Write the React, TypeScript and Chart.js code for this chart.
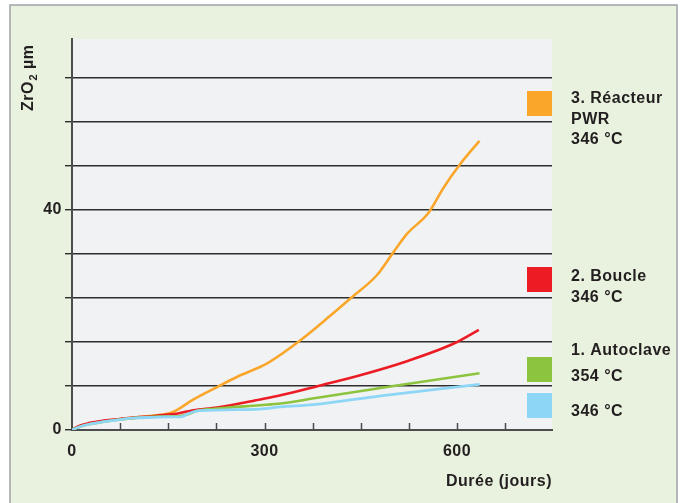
import React, { useEffect, useRef } from 'react';
import { Chart, registerables } from 'chart.js';

Chart.register(...registerables);

// ---- data (days, ZrO2 thickness in µm) ----
const pwrDays = [0, 10, 25, 50, 75, 100, 125, 150, 160, 190, 226, 260, 304, 356, 400, 436, 475, 501, 522, 556, 579, 605, 635];
const pwrValues = [0, 0.6, 1.1, 1.6, 2.0, 2.3, 2.6, 3.0, 3.4, 5.6, 7.8, 9.8, 12.1, 16.3, 20.5, 24.1, 28.1, 32.3, 35.6, 39.5, 44.0, 48.3, 52.5];

const boucleDays = [0, 10, 25, 50, 75, 100, 125, 150, 165, 189, 226, 293, 325, 387, 449, 522, 595, 634];
const boucleValues = [0, 0.7, 1.2, 1.7, 2.0, 2.3, 2.5, 2.8, 3.0, 3.6, 4.1, 5.55, 6.3, 8.1, 9.95, 12.5, 15.7, 18.2];

const auto354Days = [0, 10, 25, 50, 75, 100, 125, 150, 165, 179, 195, 226, 293, 325, 380, 501, 635];
const auto354Values = [0, 0.5, 1.0, 1.5, 1.9, 2.2, 2.4, 2.5, 2.5, 2.8, 3.5, 3.9, 4.5, 4.8, 5.8, 8.0, 10.3];

const auto346Days = [0, 10, 25, 50, 75, 100, 125, 150, 170, 182, 200, 293, 325, 376, 481, 635];
const auto346Values = [0, 0.5, 1.0, 1.5, 1.9, 2.2, 2.3, 2.4, 2.4, 3.0, 3.5, 3.8, 4.2, 4.6, 6.2, 8.3];

const xLabelDays = [0, 300, 600];
const yLabelValues = [0, 40];
const xTickStep = 75;
const yTickStep = 8;

const yTitle = ['ZrO', '2', ' µm'];
const xTitle = 'Durée (jours)';

const legendPwr = ['3. Réacteur', 'PWR', '346 °C'];
const legendBoucle = ['2. Boucle', '346 °C'];
const legendAutoclave = '1. Autoclave';
const legendAuto354 = '354 °C';
const legendAuto346 = '346 °C';

const ORANGE = '#f9a62b';
const RED = '#ec1c24';
const GREEN = '#8cc43f';
const BLUE = '#8ed6f6';
const TEXT = '#231f20';
const FONT = '"Liberation Sans", Arial, sans-serif';

const toPoints = (xs: number[], ys: number[]) => xs.map((x, i) => ({ x, y: ys[i] }));

const decorPlugin = {
  id: 'decor',
  beforeDraw(chart: any) {
    const { ctx, chartArea, width, height } = chart;
    ctx.save();
    ctx.fillStyle = '#ffffff';
    ctx.fillRect(0, 0, width, height);
    ctx.fillStyle = '#e9f2de';
    ctx.fillRect(10, 5, 667, height);
    ctx.strokeStyle = '#9ea3a8';
    ctx.lineWidth = 1.5;
    ctx.strokeRect(10, 5, 667, height + 10);
    ctx.fillStyle = '#f1f2f4';
    ctx.fillRect(chartArea.left, chartArea.top, chartArea.right - chartArea.left, chartArea.bottom - chartArea.top);
    ctx.restore();
  },
  afterDraw(chart: any) {
    const { ctx, chartArea, scales } = chart;
    const xs = scales.x;
    const ys = scales.y;
    ctx.save();
    // inward x tick marks
    ctx.strokeStyle = '#4a4a4a';
    ctx.lineWidth = 1.5;
    for (let d = xTickStep; d < xs.max; d += xTickStep) {
      const px = Math.round(xs.getPixelForValue(d)) + 0.5;
      ctx.beginPath();
      ctx.moveTo(px, chartArea.bottom - 7);
      ctx.lineTo(px, chartArea.bottom);
      ctx.stroke();
    }
    ctx.fillStyle = TEXT;
    (ctx as any).letterSpacing = '0.5px';
    // axis labels
    ctx.font = `bold 16px ${FONT}`;
    ctx.textBaseline = 'middle';
    ctx.textAlign = 'center';
    xLabelDays.forEach((d) => ctx.fillText(String(d), xs.getPixelForValue(d), 452));
    ctx.textAlign = 'right';
    yLabelValues.forEach((v) => ctx.fillText(String(v), 62, ys.getPixelForValue(v)));
    // y title (rotated, with subscript)
    ctx.translate(33, 111);
    ctx.rotate(-Math.PI / 2);
    ctx.textBaseline = 'alphabetic';
    ctx.textAlign = 'left';
    ctx.font = `bold 16px ${FONT}`;
    let cx = 0;
    ctx.fillText(yTitle[0], cx, 0);
    cx += ctx.measureText(yTitle[0]).width + 0.5;
    ctx.font = `bold 11px ${FONT}`;
    ctx.fillText(yTitle[1], cx, 4);
    cx += ctx.measureText(yTitle[1]).width;
    ctx.font = `bold 16px ${FONT}`;
    ctx.fillText(yTitle[2], cx, 0);
    ctx.setTransform(1, 0, 0, 1, 0, 0);
    // x title
    ctx.font = `bold 16px ${FONT}`;
    ctx.textAlign = 'right';
    ctx.textBaseline = 'middle';
    ctx.fillText(xTitle, chartArea.right, 482);
    // legend
    const sq = (color: string, y: number) => {
      ctx.fillStyle = color;
      ctx.fillRect(527, y, 25, 25);
    };
    sq(ORANGE, 91);
    sq(RED, 267);
    sq(GREEN, 357);
    sq(BLUE, 393);
    ctx.fillStyle = TEXT;
    ctx.textAlign = 'left';
    ctx.textBaseline = 'middle';
    ctx.font = `bold 16px ${FONT}`;
    legendPwr.forEach((t, i) => ctx.fillText(t, 571, 99 + i * 20.5));
    legendBoucle.forEach((t, i) => ctx.fillText(t, 571, 277 + i * 21));
    ctx.fillText(legendAutoclave, 571, 351);
    ctx.fillText(legendAuto354, 571, 377);
    ctx.fillText(legendAuto346, 571, 412);
    ctx.restore();
  },
};

export default function App() {
  const ref = useRef<HTMLCanvasElement | null>(null);
  useEffect(() => {
    if (!ref.current) return;
    const ds = (label: string, xs: number[], ys: number[], color: string, w: number) => ({
      label,
      data: toPoints(xs, ys),
      borderColor: color,
      backgroundColor: color,
      borderWidth: w,
      pointRadius: 0,
      fill: false,
      cubicInterpolationMode: 'monotone' as const,
    });
    const chart = new Chart(ref.current, {
      type: 'line',
      data: {
        datasets: [
          ds('1. Autoclave 346 °C', auto346Days, auto346Values, BLUE, 2.8),
          ds('1. Autoclave 354 °C', auto354Days, auto354Values, GREEN, 2.6),
          ds('2. Boucle 346 °C', boucleDays, boucleValues, RED, 2.6),
          ds('3. Réacteur PWR 346 °C', pwrDays, pwrValues, ORANGE, 2.6),
        ],
      },
      options: {
        animation: false,
        responsive: false,
        layout: { padding: { top: 39, right: 133, left: 0, bottom: 0 } },
        plugins: { legend: { display: false }, tooltip: { enabled: false } },
        scales: {
          x: {
            type: 'linear',
            min: 0,
            max: 748,
            afterFit: (s: any) => { s.height = 73; },
            ticks: { display: false, stepSize: xTickStep },
            grid: { display: false, drawTicks: false },
            border: { display: true, color: '#4d4d4d', width: 2 },
          },
          y: {
            type: 'linear',
            min: 0,
            max: 71,
            afterFit: (s: any) => { s.width = 72; },
            ticks: {
              stepSize: yTickStep,
              includeBounds: false,
              autoSkip: false,
              padding: 3,
              color: 'rgba(0,0,0,0)',
              font: { family: FONT, size: 15, weight: 'bold' },
              callback: () => '',
            },
            grid: { color: '#2e2e2e', lineWidth: 1.4, drawTicks: true, tickLength: 7, tickColor: '#2e2e2e' },
            border: { display: true, color: '#4d4d4d', width: 2 },
          },
        },
      } as any,
      plugins: [decorPlugin],
    });
    return () => chart.destroy();
  }, []);
  return (
    <div style={{ position: 'fixed', left: 0, top: 0, width: 685, height: 503, background: '#fff' }}>
      <canvas ref={ref} width={685} height={503} style={{ display: 'block', width: 685, height: 503 }} />
    </div>
  );
}
